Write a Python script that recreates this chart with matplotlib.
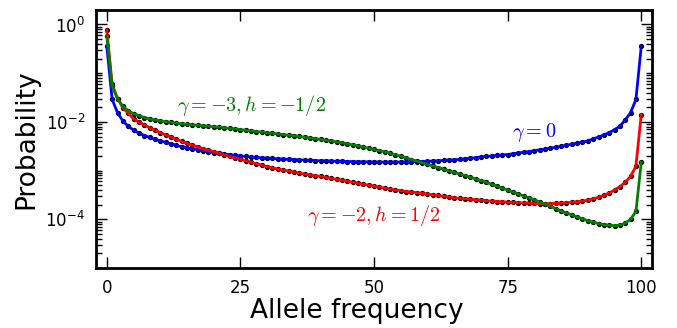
import numpy as np
import matplotlib
matplotlib.use("Agg")
import matplotlib.pyplot as plt
from matplotlib.ticker import LogLocator, FixedLocator, FixedFormatter

# Allele frequency (0..100)
freq = list(range(101))

# log10(probability)
blue_log10 = [
    -0.45, -1.54, -1.81, -1.98, -2.09, -2.17, -2.23, -2.28, -2.32, -2.36,
    -2.39, -2.42, -2.45, -2.48, -2.51, -2.53, -2.55, -2.57, -2.59, -2.61,
    -2.63, -2.645, -2.66, -2.675, -2.69, -2.70, -2.71, -2.72, -2.73, -2.74,
    -2.745, -2.75, -2.76, -2.765, -2.77, -2.775, -2.78, -2.785, -2.79, -2.795,
    -2.80, -2.80, -2.805, -2.81, -2.81, -2.815, -2.815, -2.82, -2.82, -2.82,
    -2.825, -2.825, -2.825, -2.825, -2.825, -2.825, -2.82, -2.82, -2.815, -2.815,
    -2.81, -2.805, -2.80, -2.79, -2.785, -2.78, -2.77, -2.76, -2.75, -2.735,
    -2.72, -2.71, -2.70, -2.69, -2.68, -2.67, -2.655, -2.64, -2.625, -2.61,
    -2.59, -2.575, -2.56, -2.54, -2.52, -2.50, -2.48, -2.46, -2.44, -2.415,
    -2.39, -2.35, -2.31, -2.27, -2.22, -2.16, -2.09, -1.96, -1.81, -1.54,
    -0.45,
]

red_log10 = [
    -0.11, -1.23, -1.52, -1.71, -1.82, -1.94, -2.00, -2.06, -2.12, -2.17,
    -2.22, -2.27, -2.31, -2.36, -2.40, -2.44, -2.48, -2.51, -2.55, -2.58,
    -2.61, -2.645, -2.68, -2.71, -2.74, -2.77, -2.80, -2.83, -2.86, -2.89,
    -2.92, -2.945, -2.97, -2.99, -3.01, -3.03, -3.05, -3.07, -3.09, -3.105,
    -3.12, -3.14, -3.16, -3.18, -3.20, -3.22, -3.24, -3.26, -3.28, -3.30,
    -3.32, -3.34, -3.36, -3.38, -3.40, -3.41, -3.43, -3.44, -3.455, -3.47,
    -3.48, -3.50, -3.51, -3.53, -3.545, -3.56, -3.57, -3.58, -3.59, -3.60,
    -3.61, -3.62, -3.63, -3.635, -3.64, -3.65, -3.655, -3.66, -3.665, -3.67,
    -3.675, -3.68, -3.68, -3.68, -3.675, -3.67, -3.66, -3.65, -3.64, -3.625,
    -3.61, -3.58, -3.55, -3.51, -3.46, -3.40, -3.33, -3.24, -3.12, -2.91,
    -1.85,
]

green_log10 = [
    -0.23, -1.27, -1.52, -1.68, -1.77, -1.83, -1.87, -1.91, -1.94, -1.96,
    -1.98, -1.995, -2.01, -2.025, -2.04, -2.05, -2.06, -2.07, -2.08, -2.09,
    -2.10, -2.11, -2.12, -2.135, -2.145, -2.16, -2.17, -2.185, -2.20, -2.21,
    -2.225, -2.235, -2.25, -2.26, -2.275, -2.285, -2.30, -2.315, -2.33, -2.345,
    -2.36, -2.375, -2.39, -2.41, -2.43, -2.45, -2.47, -2.493, -2.517, -2.54,
    -2.565, -2.59, -2.616, -2.643, -2.673, -2.706, -2.739, -2.773, -2.806, -2.839,
    -2.872, -2.905, -2.938, -2.971, -3.004, -3.037, -3.07, -3.103, -3.136, -3.17,
    -3.205, -3.24, -3.28, -3.32, -3.36, -3.40, -3.44, -3.48, -3.52, -3.56,
    -3.60, -3.645, -3.69, -3.735, -3.78, -3.83, -3.87, -3.91, -3.95, -3.99,
    -4.03, -4.06, -4.09, -4.11, -4.125, -4.13, -4.12, -4.08, -4.00, -3.84,
    -2.83,
]

series_colors = ["#0000ff", "#ff0000", "#008000"]
labels_text = [r"$\gamma = 0$", r"$\gamma = -2, h = 1/2$", r"$\gamma = -3, h = -1/2$"]
label_pos_x = [80, 50, 27]
label_pos_y = [6.0e-3, 1.2e-4, 2.2e-2]

xticks = [0, 25, 50, 75, 100]
yticks = [1e0, 1e-2, 1e-4]
ytick_labels = [r"$10^{0}$", r"$10^{-2}$", r"$10^{-4}$"]

fig = plt.figure(figsize=(6.77, 3.28), dpi=100)
ax = fig.add_axes([0.142, 0.183, 0.821, 0.787])

x = np.array(freq)
for logs, col in zip([blue_log10, red_log10, green_log10], series_colors):
    y = 10.0 ** np.array(logs)
    ax.plot(x, y, linestyle="none", marker="o", markersize=3.8,
            color="k", markeredgewidth=0, zorder=2)
    ax.plot(x, y, color=col, linewidth=2, zorder=3)

ax.set_yscale("log")
ax.set_xlim(-2, 102)
ax.set_ylim(1e-5, 2)

ax.xaxis.set_major_locator(FixedLocator(xticks))
ax.set_xticklabels([str(t) for t in xticks])
ax.yaxis.set_major_locator(FixedLocator(yticks))
ax.yaxis.set_major_formatter(FixedFormatter(ytick_labels))
ax.yaxis.set_minor_locator(LogLocator(base=10, subs=np.arange(1, 10), numticks=100))
ax.yaxis.set_minor_formatter(matplotlib.ticker.NullFormatter())

ax.tick_params(which="both", direction="in", top=True, right=True, labelsize=12, pad=8)
ax.tick_params(which="major", length=8, width=1)
ax.tick_params(which="minor", length=4, width=1)
for s in ax.spines.values():
    s.set_linewidth(2)

for t, c, px, py in zip(labels_text, series_colors, label_pos_x, label_pos_y):
    ax.text(px, py, t, color=c, fontsize=14.5, ha="center", va="center",
            math_fontfamily="cm")

ax.set_xlabel("Allele frequency", fontsize=19)
ax.xaxis.set_label_coords(0.469, -0.115)
ax.set_ylabel("Probability", fontsize=19, labelpad=4)

fig.savefig("out.png", dpi=100)
